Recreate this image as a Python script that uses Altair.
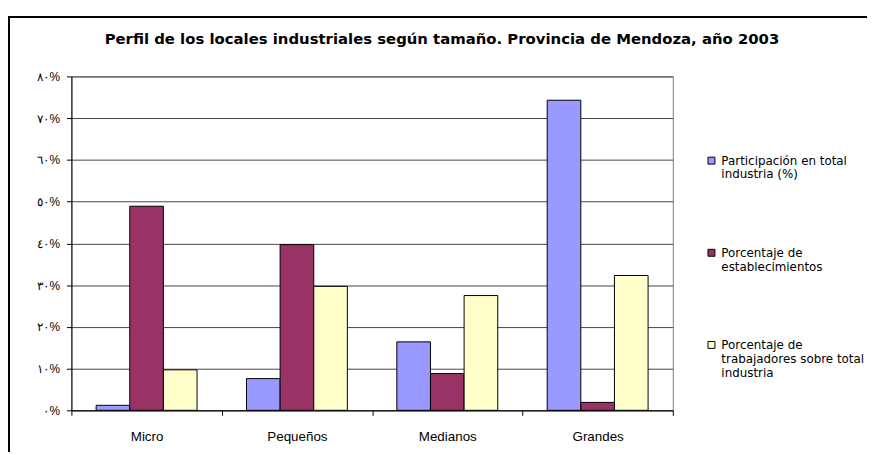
import altair as alt
import pandas as pd

categories = ["Micro", "Pequeños", "Medianos", "Grandes"]
series = [
    "Participación en total|industria (%)",
    "Porcentaje de|establecimientos",
    "Porcentaje de|trabajadores sobre total|industria",
]
participacion = [1.2, 7.6, 16.4, 74.3]
establecimientos = [48.9, 39.7, 8.8, 1.9]
trabajadores = [9.7, 29.7, 27.5, 32.3]
colors = ["#9999FF", "#993366", "#FFFFCC"]
y_ticks = [0, 10, 20, 30, 40, 50, 60, 70, 80]
y_tick_labels = ["٠%", "١٠%", "٢٠%", "٣٠%", "٤٠%", "٥٠%", "٦٠%", "٧٠%", "٨٠%"]
title = "Perfil de los locales industriales según tamaño. Provincia de Mendoza, año 2003"

rows = []
for i, c in enumerate(categories):
    for s, vals in zip(series, [participacion, establecimientos, trabajadores]):
        rows.append({"cat": c, "serie": s, "val": vals[i]})
df = pd.DataFrame(rows)

label_expr = "[" + ",".join("'%s'" % t for t in y_tick_labels) + "][round(datum.value/10)]"

bars = alt.Chart(df).mark_bar(stroke="black", strokeWidth=1).encode(
    x=alt.X("cat:N", sort=categories,
            scale=alt.Scale(paddingInner=0, paddingOuter=0),
            axis=alt.Axis(title=None, labelAngle=0, tickBand="extent",
                          labelFontSize=13.5, labelPadding=14, tickSize=5)),
    xOffset=alt.XOffset("serie:N", sort=series,
                        scale=alt.Scale(paddingInner=0, paddingOuter=0.735)),
    y=alt.Y("val:Q", scale=alt.Scale(domain=[0, 80], nice=False),
            axis=alt.Axis(title=None, values=y_ticks, labelExpr=label_expr,
                          grid=True, gridColor="#444444", labelFontSize=12,
                          tickSize=5, labelPadding=7)),
    color=alt.Color("serie:N", sort=series,
                    scale=alt.Scale(domain=series, range=colors),
                    legend=alt.Legend(title=None, orient="none", legendX=640, legendY=79,
                                      labelExpr="split(datum.label, '|')",
                                      labelLimit=0, labelFontSize=12,
                                      labelFont="DejaVu Sans",
                                      symbolType="square", symbolSize=49,
                                      symbolStrokeColor="black", symbolStrokeWidth=1,
                                      rowPadding=67, labelOffset=4)),
)

one = pd.DataFrame({"a": [0]})

frame = alt.Chart(one).mark_rect(
    fill=None, stroke="black", strokeWidth=2, clip=False
).encode(
    x=alt.value(-63), x2=alt.value(900), y=alt.value(-60), y2=alt.value(500)
)

title_mark = alt.Chart(one).mark_text(
    font="DejaVu Sans", fontSize=15, fontWeight="bold", align="center",
    baseline="alphabetic", color="black", clip=False
).encode(
    x=alt.value(374), y=alt.value(-33), text=alt.value(title)
)

chart = alt.layer(bars, frame, title_mark).properties(
    width=607, height=337,
    autosize=alt.AutoSizeParams(type="none"),
    padding={"left": 64, "top": 67, "right": 196, "bottom": 40},
).configure(
    font="Liberation Sans",
).configure_view(
    stroke="#808080",
).configure_axis(
    domainColor="black", tickColor="black", labelColor="black",
    labelFont="Liberation Sans",
).configure_legend(
    labelColor="black",
)

chart.save("out.html", embed_options={"renderer": "svg", "actions": False})
